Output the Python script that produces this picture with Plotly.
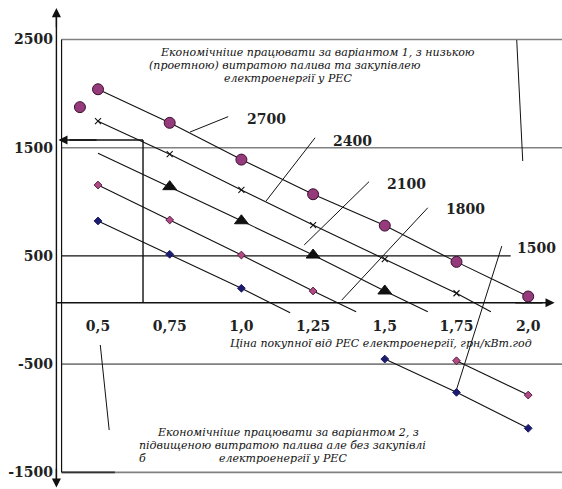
import plotly.graph_objects as go

# Price of electricity bought from the regional plant (RES), UAH/kWh
prices = [0.5, 0.75, 1.0, 1.25, 1.5, 1.75, 2.0]
price_labels = ["0,5", "0,75", "1,0", "1,25", "1,5", "1,75", "2,0"]
cost_ticks = [2500, 1500, 500, -500, -1500]

# Series named by fuel price
cost_2700 = [2040, 1730, 1390, 1070, 780, 445, 125]
single_2700_price = 0.437
single_2700_cost = 1875

cost_2400 = [1745, 1440, 1110, 785, 470, 155]
tail_2400 = (1.87, -15)

head_2100 = (0.5, 1448)
cost_2100 = [1140, 825, 508, 176]          # prices 0.75 .. 1.5
tail_2100 = (1.65, -15)

cost_1800_upper = [1155, 832, 508, 176]    # prices 0.5 .. 1.25
tail_1800 = (1.40, -16)
cost_1800_lower = [-469, -786]             # prices 1.75 .. 2.0

cost_1500_upper = [823, 515, 201]          # prices 0.5 .. 1.0
tail_1500 = (1.17, -25)
cost_1500_lower = [-453, -761, -1093]      # prices 1.5 .. 2.0

series_names = ["2700", "2400", "2100", "1800", "1500"]

X_RANGE = [0.1583, 2.1179]
Y_RANGE = [-1654, 2865]
AXIS_Y = 67          # level of the horizontal price axis
LEFT_AXIS_X = 0.355
FRAME_X = 0.373

PURPLE = "#953a7a"
PINK = "#b04a84"
NAVY = "#1c1c6e"
GREY = "#808080"
SERIF = "DejaVu Serif"

fig = go.Figure()


def line(xs, ys, name):
    fig.add_trace(go.Scatter(x=xs, y=ys, mode="lines", name=name,
                             line=dict(color="#111111", width=1.1),
                             showlegend=False, hoverinfo="skip"))


def markers(xs, ys, name, symbol, size, color, edge, edge_w=1):
    fig.add_trace(go.Scatter(x=xs, y=ys, mode="markers", name=name,
                             marker=dict(symbol=symbol, size=size, color=color,
                                         line=dict(color=edge, width=edge_w)),
                             showlegend=False))


# 2700
line(prices, cost_2700, "2700")
markers(prices, cost_2700, "2700", "circle", 11, PURPLE, "#3a1030")
markers([single_2700_price], [single_2700_cost], "2700", "circle", 11, PURPLE, "#3a1030")

# 2400
line(prices[:6] + [tail_2400[0]], cost_2400 + [tail_2400[1]], "2400")
markers(prices[:6], cost_2400, "2400", "x-thin", 6, "#111111", "#111111", 1.1)

# 2100
line([head_2100[0]] + prices[1:5] + [tail_2100[0]],
     [head_2100[1]] + cost_2100 + [tail_2100[1]], "2100")
markers(prices[1:5], cost_2100, "2100", "triangle-up", 12, "#111111", "#111111")

# 1800
line(prices[:4] + [tail_1800[0]], cost_1800_upper + [tail_1800[1]], "1800")
markers(prices[:4], cost_1800_upper, "1800", "diamond", 6, PINK, "#5a2040")
line(prices[5:], cost_1800_lower, "1800")
markers(prices[5:], cost_1800_lower, "1800", "diamond", 6, PINK, "#5a2040")

# 1500
line(prices[:3] + [tail_1500[0]], cost_1500_upper + [tail_1500[1]], "1500")
markers(prices[:3], cost_1500_upper, "1500", "diamond", 6, NAVY, NAVY)
line(prices[4:], cost_1500_lower, "1500")
markers(prices[4:], cost_1500_lower, "1500", "diamond", 6, NAVY, NAVY)

shapes = []


def seg(x0, y0, x1, y1, color="#111111", width=1, xref="x"):
    shapes.append(dict(type="line", xref=xref, yref="y", x0=x0, y0=y0, x1=x1, y1=y1,
                       line=dict(color=color, width=width), layer="below"))


# horizontal reference levels
for v in cost_ticks:
    if v == 500:
        seg(FRAME_X, v, 1.939, v, "#111111", 1.2)
    else:
        seg(FRAME_X, v, X_RANGE[1], v, GREY, 1.6)
seg(FRAME_X, -1500, 0.559, -1500, "#333333", 1.6)

# inner frame line
seg(FRAME_X, -1500, FRAME_X, 2500, "#111111", 1.2)
# outer vertical axis
seg(LEFT_AXIS_X, -1600, LEFT_AXIS_X, 2720, "#111111", 1.4)
# horizontal price axis
seg(LEFT_AXIS_X, AXIS_Y, 2.05, AXIS_Y, "#111111", 1.4)
# reading guide from the price axis to the cost axis
seg(0.657, AXIS_Y, 0.657, 1571, "#111111", 1.4)
seg(0.657, 1571, 0.40, 1571, "#111111", 1.4)

# leader lines to the fuel-price labels
seg(0.821, 1645, 0.954, 1787)
seg(1.086, 1007, 1.257, 1592)
seg(1.219, 601, 1.445, 1186)
seg(1.350, 92, 1.650, 945)
seg(1.747, -761, 1.908, 591)
# leader lines to the two region notes
seg(1.960, 2495, 1.981, 1377)
seg(0.508, -323, 0.539, -1109)

annotations = []


def arrow(x, y, ax, ay):
    annotations.append(dict(x=x, y=y, ax=ax, ay=ay, xref="x", yref="y",
                            axref="x", ayref="y", text="", showarrow=True,
                            arrowhead=2, arrowsize=1.4, arrowwidth=1.3,
                            arrowcolor="#111111"))


arrow(LEFT_AXIS_X, 2790, LEFT_AXIS_X, 2600)
arrow(LEFT_AXIS_X, -1640, LEFT_AXIS_X, -1450)
arrow(2.092, AXIS_Y, 1.95, AXIS_Y)
arrow(0.362, 1571, 0.50, 1571)

label_pos = [(1.088, 1765), (1.388, 1565), (1.576, 1162), (1.780, 931), (2.030, 570)]
for name, (px, py) in zip(series_names, label_pos):
    annotations.append(dict(x=px, y=py, xref="x", yref="y", text="<b>" + name + "</b>",
                            showarrow=False,
                            font=dict(family=SERIF, size=14, color="#222222"),
                            xanchor="center", yanchor="middle"))

note_font = dict(family=SERIF, size=11, color="#111111")


def note(x, y, text, anchor="left"):
    annotations.append(dict(x=x, y=y, xref="x", yref="y", text="<i>" + text + "</i>",
                            showarrow=False, font=note_font,
                            xanchor=anchor, yanchor="middle"))


note(0.709, 2384, "Економічніше працювати за варіантом 1, з низькою")
note(0.671, 2258, "(проетною) витратою палива та закупівлею")
note(0.932, 2135, "електроенергії у РЕС")

note(0.699, -1130, "Економічніше працювати за варіантом 2, з")
note(0.636, -1254, "підвищеною витратою палива але без закупівлі")
note(0.636, -1371, "б")
note(0.915, -1371, "електроенергії у РЕС")

note(1.487, -305, "Ціна покупної від РЕС електроенергії, грн/кВт.год", anchor="center")

tick_font = dict(family=SERIF, size=14, color="#222222")

fig.update_layout(
    width=562, height=489,
    margin=dict(l=0, r=0, t=0, b=0),
    template="none",
    paper_bgcolor="white", plot_bgcolor="white",
    showlegend=False,
    shapes=shapes,
    annotations=annotations,
    xaxis=dict(range=X_RANGE, anchor="free", position=(489 - 302.7) / 489,
               tickvals=prices, ticktext=["<b>" + t + "</b>" for t in price_labels],
               tickfont=tick_font,
               showgrid=False, zeroline=False, showline=False, ticks="",
               ticklabelstandoff=13, automargin=False, fixedrange=True),
    yaxis=dict(range=Y_RANGE, anchor="free", position=57 / 562,
               tickvals=cost_ticks, ticktext=["<b>" + str(v) + "</b>" for v in cost_ticks],
               tickfont=tick_font,
               showgrid=False, zeroline=False, showline=False, ticks="",
               ticklabelstandoff=4, automargin=False, fixedrange=True),
)

fig.write_html("out.html")
